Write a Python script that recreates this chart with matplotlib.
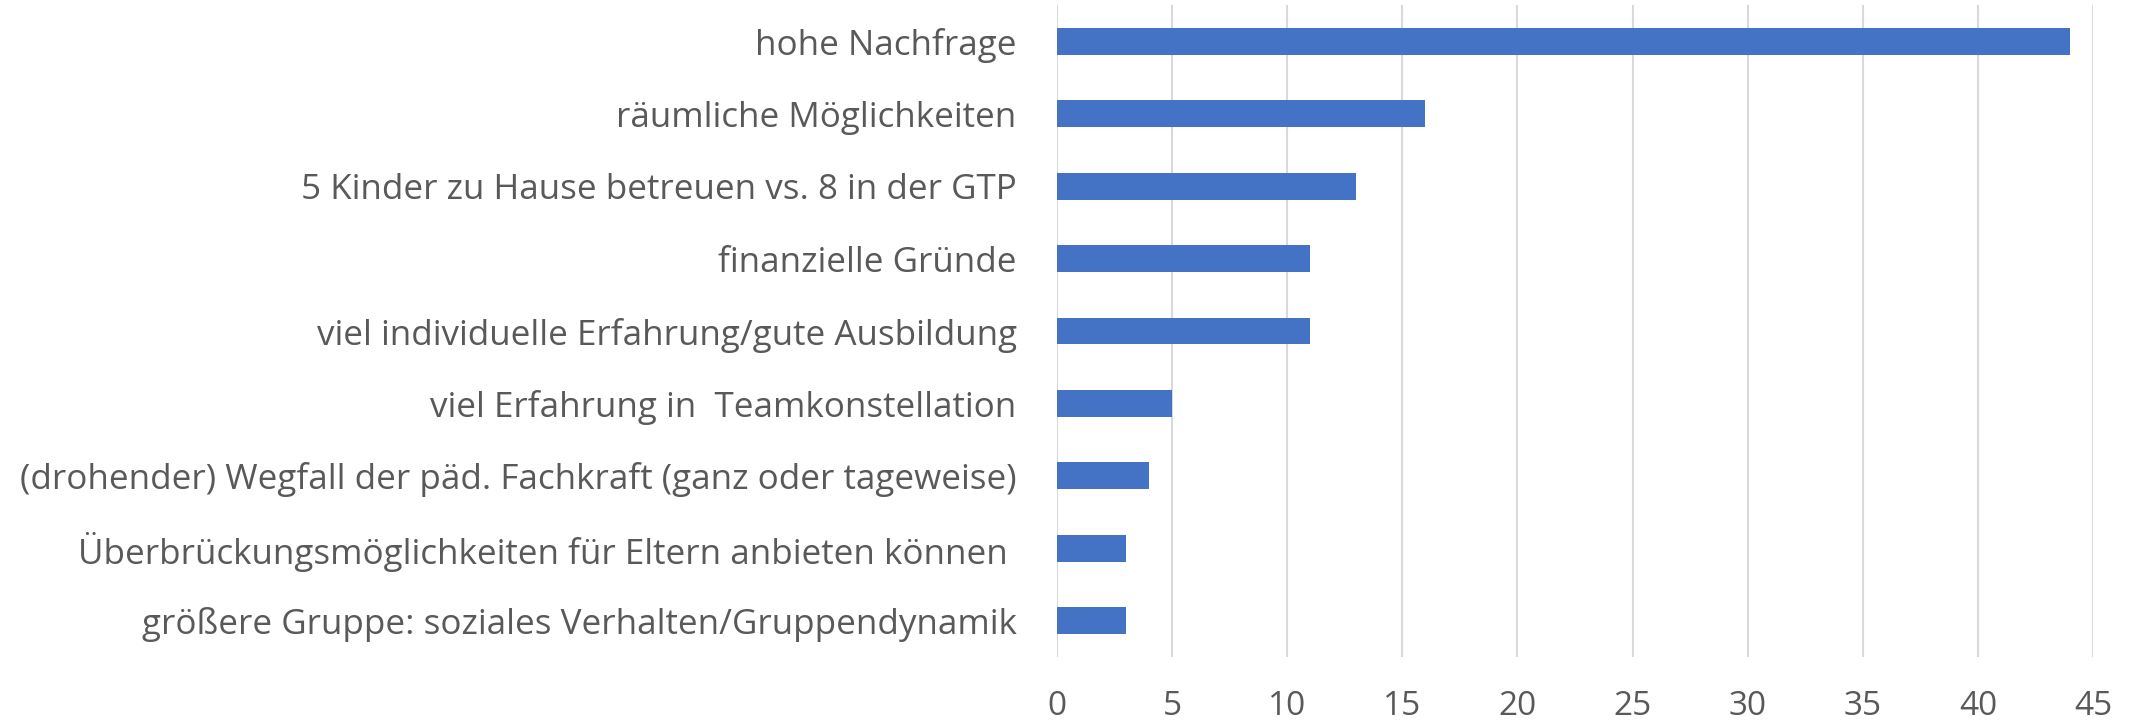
import matplotlib
matplotlib.use("Agg")
import matplotlib.pyplot as plt

categories = [
    "hohe Nachfrage",
    "räumliche Möglichkeiten",
    "5 Kinder zu Hause betreuen vs. 8 in der GTP",
    "finanzielle Gründe",
    "viel individuelle Erfahrung/gute Ausbildung",
    "viel Erfahrung in  Teamkonstellation",
    "(drohender) Wegfall der päd. Fachkraft (ganz oder tageweise)",
    "Überbrückungsmöglichkeiten für Eltern anbieten können ",
    "größere Gruppe: soziales Verhalten/Gruppendynamik",
]
values = [44, 16, 13, 11, 11, 5, 4, 3, 3]
xticks = [0, 5, 10, 15, 20, 25, 30, 35, 40, 45]

plt.rcParams['font.family'] = ['Open Sans', 'DejaVu Sans']
text_color = "#595959"

fig = plt.figure(figsize=(21.41, 7.22), dpi=100)
ax = fig.add_axes([1057/2141, 1 - 657/722, (2093 - 1057)/2141, (657 - 5)/722])

y = list(range(len(categories)))
ax.barh(y, values, height=0.37, color="#4472C4", zorder=3)
ax.set_ylim(len(categories) - 0.5, -0.5)
ax.set_xlim(0, 45)
ax.set_xticks(xticks)
ax.set_xticklabels([str(t) for t in xticks])
ax.set_yticks(y)
ax.set_yticklabels(categories)

ax.grid(axis="x", color="#D9D9D9", linewidth=1.5, zorder=0)
for s in ax.spines.values():
    s.set_visible(False)
ax.tick_params(axis="both", length=0, colors=text_color)
ax.tick_params(axis="x", pad=24, labelsize=24)
ax.tick_params(axis="y", pad=29, labelsize=25.2)

fig.savefig("out.png", dpi=100)
